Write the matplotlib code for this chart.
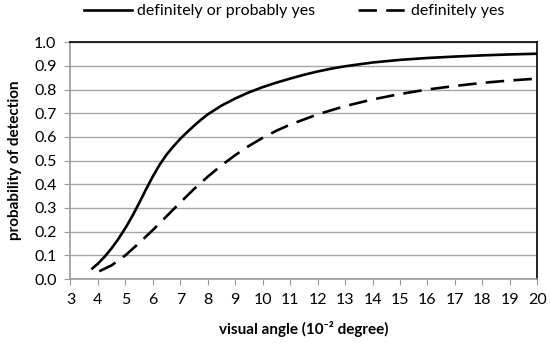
import matplotlib.pyplot as plt

# readings from the reference curves
x_both = [3.8, 4.0, 4.25, 4.5, 4.75, 5.0, 5.25, 5.5, 5.75, 6.0, 6.25, 6.5, 6.75, 7.0,
          7.25, 7.5, 7.75, 8.0, 8.5, 9.0, 9.5, 10, 10.5, 11, 11.5, 12, 12.5, 13, 13.5,
          14, 15, 16, 17, 18, 19, 20]
y_both = [0.045, 0.065, 0.095, 0.13, 0.17, 0.215, 0.265, 0.32, 0.378, 0.433, 0.483,
          0.525, 0.56, 0.592, 0.62, 0.647, 0.672, 0.695, 0.732, 0.762, 0.788, 0.81,
          0.829, 0.846, 0.862, 0.876, 0.888, 0.898, 0.906, 0.914, 0.925, 0.933, 0.939,
          0.944, 0.948, 0.951]

x_yes = [4.05, 4.5, 5.0, 5.5, 6.0, 6.5, 7.0, 7.5, 8.0, 8.5, 9.0, 9.5, 10, 10.5, 11,
         12, 13, 14, 15, 16, 17, 18, 19, 20]
y_yes = [0.033, 0.058, 0.10, 0.152, 0.207, 0.265, 0.323, 0.38, 0.432, 0.48, 0.523,
         0.562, 0.596, 0.626, 0.652, 0.695, 0.73, 0.758, 0.781, 0.80, 0.815, 0.828,
         0.838, 0.846]

x_ticks = list(range(3, 21))
y_ticks = [i / 10 for i in range(11)]

plt.rcParams['font.family'] = ['Lato', 'DejaVu Sans']

fig = plt.figure(figsize=(5.5, 3.48), dpi=100)
ax = fig.add_axes([0.128, 0.198, 0.849, 0.681])

ax.plot(x_both, y_both, color="black", lw=1.9, label="definitely or probably yes")
ax.plot(x_yes, y_yes, color="black", lw=1.9, dashes=(7, 3.5), label="definitely yes")

ax.set_xlim(3, 20)
ax.set_ylim(0, 1.0)
ax.set_xticks(x_ticks)
ax.set_yticks(y_ticks)
ax.set_yticklabels([f"{v:.1f}" for v in y_ticks])
ax.tick_params(direction="out", length=4, color="#999999", labelsize=11.5, pad=6)
ax.grid(axis="y", color="#a6a6a6", lw=1)
ax.set_axisbelow(True)

ax.spines["left"].set_color("#999999")
ax.spines["bottom"].set_color("#999999")
ax.spines["top"].set_color("black")
ax.spines["right"].set_color("black")
for s in ax.spines.values():
    s.set_linewidth(1.2)

ax.set_xlabel("visual angle (10\u207b\u00b2 degree)", fontsize=11, fontweight="bold", labelpad=10)
ax.set_ylabel("probability of detection", fontsize=11, fontweight="bold", labelpad=9)

fig.legend(loc="upper center", bbox_to_anchor=(0.535, 1.03), ncol=2, frameon=False,
           fontsize=11.5, handlelength=3, columnspacing=2.7, handletextpad=0.3)

fig.savefig("out.png", dpi=100)
